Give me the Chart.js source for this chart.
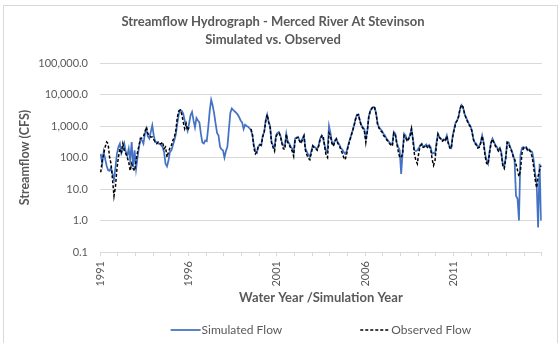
<!DOCTYPE html>
<html>
<head>
<meta charset="utf-8">
<script src="https://cdn.jsdelivr.net/npm/chart.js@4.4.1/dist/chart.umd.min.js"></script>
<style>
  html, body { margin: 0; padding: 0; background: #fff; }
  #wrap { position: relative; width: 560px; height: 343px; overflow: hidden; }
  #frame { position: absolute; left: 3px; top: 5px; width: 553px; height: 400px; border: 1px solid #d9d9d9; pointer-events: none; }
  canvas { position: absolute; left: 0; top: 0; }
</style>
</head>
<body>
<div id="wrap">
  <canvas id="flowChart" width="560" height="343"></canvas>
  <div id="frame"></div>
</div>
<script>
// monthly flows (CFS), Jan 1991 .. Dec 2015, one row per year
const START_YEAR = 1991;
const END_YEAR = 2016;
const LABEL_YEARS = [1991, 1996, 2001, 2006, 2011];
const Y_TICKS = [0.1, 1, 10, 100, 1000, 10000, 100000];

const simulated = [
  130, 63, 150, 90, 55, 40, 38, 47, 30, 20, 49, 130,
  215, 275, 135, 180, 275, 150, 115, 190, 80, 310, 49, 170,
  44, 102, 215, 400, 350, 275, 570, 820, 470, 400, 650, 1050,
  500, 310, 310, 275, 275, 245, 215, 150, 63, 52, 80, 150,
  170, 245, 350, 540, 1200, 2400, 3200, 3000, 2500, 1500, 1000, 700,
  1200, 2200, 2800, 1500, 900, 1800, 1500, 1300, 570, 300, 280, 350,
  330, 900, 3000, 6800, 4500, 2500, 1200, 600, 500, 220, 180, 170,
  100, 160, 220, 750, 2600, 3600, 3200, 2900, 2600, 2300, 1900, 1500,
  1300, 800, 1100, 1000, 950, 850, 750, 500, 240, 160, 140, 220,
  260, 240, 500, 640, 1500, 2300, 1400, 1000, 310, 240, 200, 500,
  600, 640, 500, 310, 240, 230, 570, 320, 280, 220, 190, 150,
  400, 430, 450, 350, 310, 400, 500, 190, 150, 120, 105, 160,
  240, 220, 200, 190, 250, 400, 500, 400, 250, 150, 170, 1000,
  600, 300, 250, 350, 400, 300, 260, 200, 180, 150, 130, 160,
  240, 350, 500, 700, 1050, 1700, 2300, 2300, 1500, 1050, 900, 800,
  400, 700, 2000, 3000, 3500, 4000, 3800, 2500, 1200, 900, 800, 700,
  570, 500, 400, 350, 300, 275, 260, 650, 570, 300, 215, 170,
  30, 150, 570, 500, 350, 400, 500, 820, 400, 170, 160, 170,
  200, 250, 275, 215, 230, 260, 215, 250, 215, 130, 140, 130,
  300, 570, 445, 400, 350, 380, 350, 500, 300, 215, 200, 500,
  800, 1300, 1500, 2000, 3500, 4600, 4000, 2500, 1900, 1500, 1190, 1000,
  730, 400, 300, 275, 215, 230, 300, 500, 300, 130, 80, 63,
  150, 300, 400, 310, 250, 215, 170, 200, 150, 63, 50, 100,
  310, 300, 215, 170, 120, 80, 6, 5, 1.0, 120, 200, 215,
  200, 215, 170, 180, 160, 150, 80, 30, 15, 0.6, 63, 1.0
];

const observed = [
  34, 80, 130, 215, 310, 275, 102, 63, 20, 6, 12, 44,
  102, 190, 150, 275, 170, 135, 102, 70, 38, 63, 44, 38,
  80, 150, 245, 400, 420, 450, 650, 930, 570, 500, 450, 450,
  370, 310, 275, 310, 275, 275, 310, 190, 215, 102, 150, 200,
  245, 350, 450, 730, 1900, 3000, 3200, 2400, 1350, 820, 1200, 730,
  900, null, null, null, null, null, null, null, null, null, null, null,
  null, null, null, null, null, null, null, null, null, null, null, null,
  null, null, null, null, null, null, null, null, null, null, null, null,
  null, null, null, null, null, null, 800, 550, 200, 130, 150, 230,
  250, 250, 450, 640, 1400, 2300, 1300, 900, 290, 210, 160, 450,
  580, 600, 480, 280, 190, 180, 550, 300, 250, 200, 160, 110,
  380, 420, 430, 330, 280, 380, 480, 170, 120, 95, 85, 140,
  230, 200, 190, 170, 230, 380, 480, 500, 230, 120, 100, 600,
  500, 280, 230, 320, 380, 280, 240, 180, 140, 100, 85, 130,
  230, 330, 480, 700, 1000, 1600, 2200, 2300, 1400, 1000, 850, 700,
  300, 650, 1900, 3000, 3600, 4200, 3800, 2400, 1100, 850, 700, 650,
  500, 450, 380, 320, 280, 250, 230, 600, 550, 280, 160, 100,
  100, 130, 500, 450, 330, 380, 480, 800, 350, 130, 80, 63,
  150, 230, 260, 210, 220, 250, 200, 230, 190, 90, 56, 80,
  250, 550, 430, 380, 330, 360, 330, 480, 280, 200, 190, 450,
  750, 1200, 1500, 2000, 3500, 4700, 4000, 2500, 1800, 1400, 1100, 950,
  700, 380, 280, 250, 200, 210, 280, 480, 280, 110, 65, 60,
  140, 280, 380, 300, 230, 200, 160, 190, 130, 55, 45, 90,
  300, 280, 200, 160, 110, 90, 60, 40, 25, 40, 130, 200,
  190, 200, 160, 170, 150, 100, 50, 20, 11, 25, 40, 56
];

const FONT = 'Lato';
const TEXT = '#595959';
const GRID = '#d9d9d9';

// month i sits in the middle of its slot on the year axis
function toPoints(values) {
  return values.map((v, i) => ({ x: START_YEAR + (i + 0.5) / 12, y: v }));
}

// legend drawn below the plot, centred on the plot area like the original
const bottomLegend = {
  id: 'bottomLegend',
  afterDraw(chart) {
    const ctx = chart.ctx;
    const area = chart.chartArea;
    const y = 330;
    const lineLen = 30;
    const gap = 78;
    ctx.save();
    ctx.font = '12px ' + FONT;
    ctx.textBaseline = 'middle';
    const items = chart.data.datasets.map(ds => ({ ds, w: lineLen + 1 + ctx.measureText(ds.label).width }));
    const total = items.reduce((s, it) => s + it.w, 0) + gap;
    let x = (area.left + area.right) / 2 - total / 2;
    items.forEach(it => {
      ctx.strokeStyle = it.ds.borderColor;
      ctx.lineWidth = it.ds.borderWidth;
      ctx.setLineDash(it.ds.borderDash || []);
      ctx.beginPath();
      ctx.moveTo(x, y);
      ctx.lineTo(x + lineLen, y);
      ctx.stroke();
      ctx.setLineDash([]);
      ctx.fillStyle = TEXT;
      ctx.fillText(it.ds.label, x + lineLen + 1, y);
      x += it.w + gap;
    });
    ctx.restore();
  }
};

const ctx = document.getElementById('flowChart').getContext('2d');
new Chart(ctx, {
  type: 'line',
  data: {
    datasets: [{
      label: 'Simulated Flow',
      data: toPoints(simulated),
      borderColor: '#4472C4',
      borderWidth: 1.75,
      pointRadius: 0,
      tension: 0,
      order: 2
    }, {
      label: 'Observed Flow',
      data: toPoints(observed),
      borderColor: '#000000',
      borderWidth: 1.5,
      borderDash: [3, 2],
      pointRadius: 0,
      tension: 0,
      spanGaps: false,
      order: 1
    }]
  },
  options: {
    responsive: false,
    animation: false,
    devicePixelRatio: 1,
    layout: { padding: { top: 0, right: 14, bottom: 21, left: 0 } },
    plugins: {
      legend: { display: false },
      tooltip: { enabled: false },
      title: {
        display: true,
        text: ['Streamflow Hydrograph - Merced River At Stevinson', 'Simulated vs. Observed'],
        color: TEXT,
        font: { family: FONT, size: 13, weight: 'bold', lineHeight: '18px' },
        padding: { top: 13, bottom: 14 }
      }
    },
    scales: {
      x: {
        type: 'linear',
        min: START_YEAR,
        max: END_YEAR,
        afterFit: s => { s.height = 70; },
        grid: { drawOnChartArea: false, color: GRID, tickLength: 4 },
        border: { color: GRID },
        ticks: {
          stepSize: 1,
          autoSkip: false,
          minRotation: 90,
          maxRotation: 90,
          padding: 5,
          color: TEXT,
          font: { family: FONT, size: 11 },
          callback: v => (LABEL_YEARS.includes(v) ? String(v) : '')
        },
        title: {
          display: true,
          text: 'Water Year /Simulation Year',
          color: TEXT,
          font: { family: FONT, size: 13, weight: 'bold' },
          padding: { top: 0, bottom: 16 }
        }
      },
      y: {
        type: 'logarithmic',
        min: 0.1,
        max: 100000,
        afterFit: s => { s.width = 100; },
        afterBuildTicks: s => { s.ticks = Y_TICKS.map(v => ({ value: v })); },
        grid: { color: GRID, drawTicks: false },
        border: { display: false },
        ticks: {
          autoSkip: false,
          padding: 12,
          color: TEXT,
          font: { family: FONT, size: 11 },
          callback: v => Number(v).toLocaleString('en-US', { minimumFractionDigits: 1, maximumFractionDigits: 1 })
        },
        title: {
          display: true,
          text: 'Streamflow (CFS)',
          color: TEXT,
          font: { family: FONT, size: 12.5, weight: 'bold' },
          padding: { top: 17, bottom: 0 }
        }
      }
    }
  },
  plugins: [bottomLegend]
});
</script>
</body>
</html>
